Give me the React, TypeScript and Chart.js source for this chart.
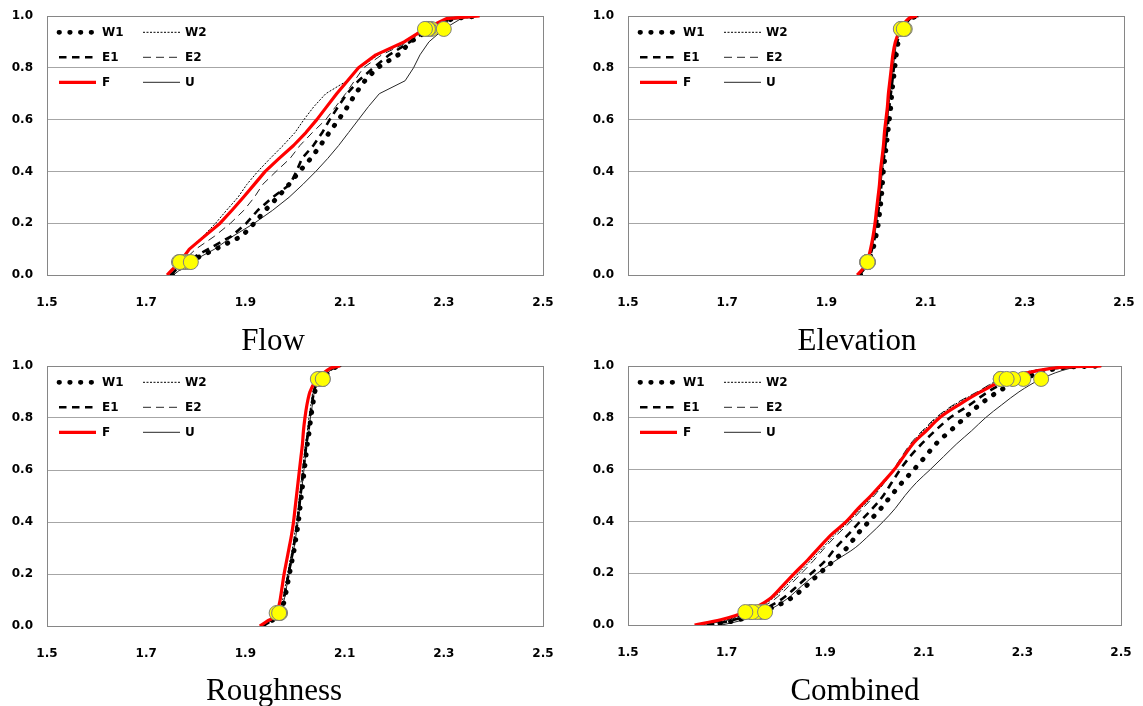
import React, { useEffect, useRef } from "react";
import { Chart, registerables } from "chart.js";

Chart.register(...registerables);

// Cumulative probability levels shared by every curve
const LEVELS = [0, 0.02, 0.05, 0.1, 0.15, 0.2, 0.25, 0.3, 0.35, 0.4, 0.45, 0.5, 0.55, 0.6, 0.65, 0.7, 0.75, 0.8, 0.85, 0.9, 0.95, 0.99, 1.0];
const X_TICKS = [1.5, 1.7, 1.9, 2.1, 2.3, 2.5];
const Y_TICKS = [0, 0.2, 0.4, 0.6, 0.8, 1.0];
const SERIES = ["W1", "W2", "E1", "E2", "F", "U"];
const MARK_LEVELS = [0.05, 0.95];

// Flow
const FLOW_W1 = [1.752, 1.763, 1.785, 1.840, 1.893, 1.918, 1.940, 1.965, 1.988, 2.009, 2.032, 2.051, 2.069, 2.088, 2.106, 2.122, 2.141, 2.166, 2.208, 2.233, 2.275, 2.318, 2.372];
const FLOW_W2 = [1.745, 1.753, 1.766, 1.786, 1.815, 1.840, 1.862, 1.885, 1.903, 1.925, 1.950, 1.976, 2.000, 2.018, 2.038, 2.062, 2.105, 2.130, 2.168, 2.224, 2.265, 2.310, 2.372];
const FLOW_E1 = [1.750, 1.760, 1.778, 1.825, 1.872, 1.902, 1.925, 1.955, 1.990, 2.003, 2.014, 2.037, 2.055, 2.070, 2.087, 2.105, 2.128, 2.158, 2.190, 2.232, 2.270, 2.315, 2.372];
const FLOW_E2 = [1.748, 1.757, 1.772, 1.800, 1.838, 1.870, 1.897, 1.918, 1.935, 1.962, 1.990, 2.010, 2.035, 2.062, 2.082, 2.102, 2.120, 2.138, 2.175, 2.228, 2.268, 2.312, 2.372];
const FLOW_F = [1.742, 1.752, 1.768, 1.787, 1.818, 1.849, 1.873, 1.896, 1.918, 1.940, 1.968, 1.997, 2.022, 2.044, 2.064, 2.084, 2.106, 2.128, 2.163, 2.220, 2.262, 2.305, 2.372];
const FLOW_U = [1.755, 1.768, 1.790, 1.838, 1.875, 1.918, 1.955, 1.988, 2.016, 2.042, 2.066, 2.088, 2.108, 2.128, 2.148, 2.170, 2.222, 2.239, 2.252, 2.270, 2.300, 2.335, 2.368];

// Elevation
const ELEV_W1 = [1.968, 1.977, 1.984, 1.994, 2.000, 2.005, 2.008, 2.011, 2.013, 2.015, 2.018, 2.021, 2.024, 2.027, 2.030, 2.032, 2.035, 2.038, 2.041, 2.045, 2.058, 2.072, 2.086];
const ELEV_W2 = [1.963, 1.973, 1.982, 1.990, 1.996, 2.000, 2.003, 2.006, 2.009, 2.011, 2.014, 2.017, 2.019, 2.022, 2.025, 2.027, 2.030, 2.033, 2.036, 2.040, 2.051, 2.067, 2.084];
const ELEV_E1 = [1.965, 1.975, 1.983, 1.992, 1.998, 2.002, 2.005, 2.008, 2.011, 2.013, 2.016, 2.019, 2.022, 2.025, 2.027, 2.030, 2.033, 2.036, 2.039, 2.043, 2.054, 2.069, 2.085];
const ELEV_E2 = [1.964, 1.974, 1.983, 1.991, 1.997, 2.001, 2.004, 2.007, 2.010, 2.012, 2.015, 2.018, 2.020, 2.023, 2.026, 2.028, 2.031, 2.034, 2.037, 2.041, 2.052, 2.068, 2.084];
const ELEV_F = [1.962, 1.972, 1.982, 1.989, 1.994, 1.998, 2.001, 2.004, 2.007, 2.009, 2.012, 2.015, 2.017, 2.020, 2.023, 2.025, 2.028, 2.031, 2.034, 2.039, 2.050, 2.066, 2.083];
const ELEV_U = [1.964, 1.974, 1.983, 1.991, 1.997, 2.001, 2.004, 2.007, 2.010, 2.013, 2.016, 2.018, 2.021, 2.024, 2.026, 2.029, 2.032, 2.035, 2.038, 2.042, 2.056, 2.070, 2.085];

// Roughness
const ROUGH_W1 = [1.936, 1.953, 1.970, 1.979, 1.984, 1.989, 1.994, 1.999, 2.003, 2.007, 2.010, 2.013, 2.016, 2.019, 2.022, 2.025, 2.029, 2.032, 2.036, 2.040, 2.056, 2.076, 2.094];
const ROUGH_W2 = [1.933, 1.950, 1.966, 1.975, 1.980, 1.985, 1.990, 1.995, 1.999, 2.003, 2.006, 2.009, 2.012, 2.015, 2.018, 2.021, 2.025, 2.028, 2.032, 2.036, 2.050, 2.073, 2.092];
const ROUGH_E1 = [1.935, 1.952, 1.968, 1.977, 1.982, 1.987, 1.992, 1.997, 2.001, 2.005, 2.008, 2.011, 2.014, 2.017, 2.020, 2.023, 2.027, 2.030, 2.034, 2.038, 2.054, 2.075, 2.093];
const ROUGH_E2 = [1.934, 1.951, 1.967, 1.976, 1.981, 1.986, 1.991, 1.996, 2.000, 2.004, 2.007, 2.010, 2.013, 2.016, 2.019, 2.022, 2.026, 2.029, 2.033, 2.037, 2.052, 2.074, 2.093];
const ROUGH_F = [1.929, 1.945, 1.963, 1.970, 1.974, 1.978, 1.983, 1.988, 1.993, 1.997, 2.000, 2.003, 2.006, 2.009, 2.012, 2.015, 2.017, 2.020, 2.024, 2.030, 2.046, 2.070, 2.091];
const ROUGH_U = [1.935, 1.952, 1.968, 1.978, 1.983, 1.988, 1.993, 1.998, 2.002, 2.006, 2.009, 2.012, 2.015, 2.018, 2.021, 2.024, 2.028, 2.031, 2.035, 2.039, 2.056, 2.076, 2.094];

// Combined
const COMB_W1 = [1.665, 1.725, 1.770, 1.828, 1.861, 1.889, 1.918, 1.945, 1.965, 1.989, 2.013, 2.034, 2.056, 2.080, 2.103, 2.125, 2.154, 2.183, 2.213, 2.250, 2.302, 2.370, 2.460];
const COMB_W2 = [1.645, 1.700, 1.748, 1.792, 1.820, 1.846, 1.871, 1.896, 1.920, 1.948, 1.972, 1.997, 2.020, 2.040, 2.057, 2.075, 2.099, 2.126, 2.162, 2.210, 2.256, 2.350, 2.460];
const COMB_E1 = [1.660, 1.715, 1.761, 1.812, 1.843, 1.872, 1.901, 1.922, 1.947, 1.971, 1.996, 2.018, 2.035, 2.052, 2.072, 2.096, 2.123, 2.153, 2.193, 2.230, 2.281, 2.362, 2.460];
const COMB_E2 = [1.648, 1.705, 1.752, 1.798, 1.826, 1.852, 1.877, 1.900, 1.925, 1.952, 1.976, 2.000, 2.020, 2.038, 2.055, 2.073, 2.097, 2.124, 2.160, 2.208, 2.256, 2.350, 2.460];
const COMB_F = [1.635, 1.688, 1.738, 1.787, 1.813, 1.838, 1.864, 1.888, 1.913, 1.943, 1.967, 1.993, 2.017, 2.040, 2.059, 2.078, 2.105, 2.132, 2.171, 2.215, 2.268, 2.355, 2.460];
const COMB_U = [1.690, 1.735, 1.778, 1.822, 1.852, 1.884, 1.922, 1.962, 1.991, 2.018, 2.042, 2.062, 2.085, 2.113, 2.140, 2.167, 2.197, 2.225, 2.258, 2.293, 2.338, 2.395, 2.460];

type Style = { color: string; width: number; dash: number[]; cap: CanvasLineCap; order: number };
const STYLE: Record<string, Style> = {
  W1: { color: "#000000", width: 4.8, dash: [0.5, 10.2], cap: "round", order: 3 },
  W2: { color: "#000000", width: 1, dash: [2, 1.5], cap: "butt", order: 5 },
  E1: { color: "#000000", width: 2.6, dash: [7.5, 5.5], cap: "butt", order: 4 },
  E2: { color: "#262626", width: 1, dash: [8, 5], cap: "butt", order: 6 },
  F: { color: "#FF0000", width: 3.2, dash: [], cap: "butt", order: 2 },
  U: { color: "#262626", width: 1, dash: [], cap: "butt", order: 7 },
};

const TICK_FONT = { family: "'DejaVu Sans'", size: 12, weight: "bold" as const };

type PanelDef = {
  title: string;
  left: number; top: number; w: number; h: number;
  area: { l: number; r: number; t: number; b: number };
  titleX: number; titleBase: number;
  series: Record<string, number[]>;
  smooth: boolean;
};

const PANELS: PanelDef[] = [
  {
    title: "Flow", left: 0, top: 0, w: 571, h: 353,
    area: { l: 47, r: 543, t: 16, b: 275 }, titleX: 273, titleBase: 350,
    series: { W1: FLOW_W1, W2: FLOW_W2, E1: FLOW_E1, E2: FLOW_E2, F: FLOW_F, U: FLOW_U }, smooth: false,
  },
  {
    title: "Elevation", left: 571, top: 0, w: 572, h: 353,
    area: { l: 57, r: 553, t: 16, b: 275 }, titleX: 857, titleBase: 350,
    series: { W1: ELEV_W1, W2: ELEV_W2, E1: ELEV_E1, E2: ELEV_E2, F: ELEV_F, U: ELEV_U }, smooth: true,
  },
  {
    title: "Roughness", left: 0, top: 353, w: 571, h: 353,
    area: { l: 47, r: 543, t: 13, b: 273 }, titleX: 274, titleBase: 700,
    series: { W1: ROUGH_W1, W2: ROUGH_W2, E1: ROUGH_E1, E2: ROUGH_E2, F: ROUGH_F, U: ROUGH_U }, smooth: true,
  },
  {
    title: "Combined", left: 571, top: 353, w: 572, h: 353,
    area: { l: 57, r: 550, t: 13, b: 272 }, titleX: 855, titleBase: 700,
    series: { W1: COMB_W1, W2: COMB_W2, E1: COMB_E1, E2: COMB_E2, F: COMB_F, U: COMB_U }, smooth: true,
  },
];

const X_AXIS_H = 40;

function makeLegendPlugin() {
  return {
    id: "insideLegend",
    afterDatasetsDraw(chart: any) {
      const { ctx, chartArea } = chart;
      const L = chartArea.left;
      const T = chartArea.top;
      const rows = [["W1", "W2"], ["E1", "E2"], ["F", "U"]];
      ctx.save();
      rows.forEach((row, ri) => {
        const y = T + 16.3 + ri * 25;
        row.forEach((name, ci) => {
          const st = STYLE[name];
          const x0 = L + (ci === 0 ? 12 : 96);
          const x1 = x0 + 37;
          ctx.beginPath();
          ctx.strokeStyle = st.color;
          ctx.lineWidth = st.width;
          ctx.lineCap = st.cap;
          ctx.setLineDash(st.dash);
          ctx.moveTo(x0, y);
          ctx.lineTo(x1, y);
          ctx.stroke();
          ctx.setLineDash([]);
          ctx.fillStyle = "#000";
          ctx.font = "bold 12px 'DejaVu Sans'";
          ctx.textBaseline = "middle";
          ctx.textAlign = "left";
          ctx.fillText(name, L + (ci === 0 ? 55 : 138), y + 0.5);
        });
      });
      ctx.restore();
    },
  };
}

const boxPlugin = {
  id: "plotBox",
  beforeDatasetsDraw(chart: any) {
    const { ctx, chartArea } = chart;
    ctx.save();
    ctx.strokeStyle = "#868686";
    ctx.lineWidth = 1;
    ctx.strokeRect(
      Math.round(chartArea.left) + 0.5,
      Math.round(chartArea.top) + 0.5,
      Math.round(chartArea.right - chartArea.left),
      Math.round(chartArea.bottom - chartArea.top)
    );
    ctx.restore();
  },
};

function Panel({ def }: { def: PanelDef }) {
  const ref = useRef<HTMLCanvasElement | null>(null);
  useEffect(() => {
    if (!ref.current) return;
    const i05 = LEVELS.indexOf(MARK_LEVELS[0]);
    const i95 = LEVELS.indexOf(MARK_LEVELS[1]);
    const lineSets = SERIES.map((name) => {
      const st = STYLE[name];
      const xs = def.series[name];
      return {
        label: name,
        data: xs.map((x, i) => ({ x, y: LEVELS[i] })),
        showLine: true,
        borderColor: st.color,
        backgroundColor: st.color,
        borderWidth: st.width,
        borderDash: st.dash,
        borderCapStyle: st.cap,
        borderJoinStyle: "round",
        pointRadius: 0,
        pointHoverRadius: 0,
        tension: 0,
        cubicInterpolationMode: def.smooth ? "monotone" : "default",
        fill: false,
        order: st.order,
      };
    });
    const marks = {
      label: "percentiles",
      data: SERIES.flatMap((name) => [
        { x: def.series[name][i05], y: MARK_LEVELS[0] },
        { x: def.series[name][i95], y: MARK_LEVELS[1] },
      ]),
      showLine: false,
      pointRadius: 7.5,
      pointHoverRadius: 7.5,
      pointBackgroundColor: "#FFFF00",
      pointBorderColor: "#7F7F7F",
      pointBorderWidth: 1,
      order: 0,
    };
    const a = def.area;
    const chart = new Chart(ref.current, {
      type: "scatter",
      data: { datasets: [marks, ...lineSets] as any },
      options: {
        animation: false,
        responsive: false,
        events: [],
        layout: {
          padding: { left: 0, top: a.t, right: def.w - a.r, bottom: def.h - a.b - X_AXIS_H },
        },
        plugins: {
          legend: { display: false },
          tooltip: { enabled: false },
          title: { display: false },
        },
        scales: {
          x: {
            type: "linear",
            min: 1.5,
            max: 2.5,
            afterBuildTicks: (s: any) => {
              s.ticks = X_TICKS.map((v) => ({ value: v }));
            },
            afterFit: (s: any) => {
              s.height = X_AXIS_H;
            },
            grid: { display: false, drawTicks: true, tickLength: 21, tickColor: "rgba(0,0,0,0)" },
            border: { display: false },
            ticks: {
              color: "#000",
              font: TICK_FONT,
              padding: 0,
              maxRotation: 0,
              autoSkip: false,
              callback: (v: any) => Number(v).toFixed(1),
            },
          },
          y: {
            type: "linear",
            min: 0,
            max: 1,
            afterBuildTicks: (s: any) => {
              s.ticks = Y_TICKS.map((v) => ({ value: v }));
            },
            afterFit: (s: any) => {
              s.width = a.l;
            },
            grid: { color: "#A6A6A6", lineWidth: 1, drawTicks: true, tickLength: 14, tickColor: "rgba(0,0,0,0)" },
            border: { display: false },
            ticks: {
              color: "#000",
              font: TICK_FONT,
              padding: 0,
              autoSkip: false,
              callback: (v: any) => Number(v).toFixed(1),
            },
          },
        },
      } as any,
      plugins: [boxPlugin, makeLegendPlugin()],
    });
    return () => chart.destroy();
  }, [def]);
  return (
    <canvas
      ref={ref}
      width={def.w}
      height={def.h}
      style={{ position: "absolute", left: def.left, top: def.top, width: def.w, height: def.h }}
    />
  );
}

export default function App() {
  return (
    <div style={{ position: "absolute", left: 0, top: 0, width: 1143, height: 706, background: "#ffffff", overflow: "hidden" }}>
      {PANELS.map((p) => (
        <Panel key={p.title} def={p} />
      ))}
      {PANELS.map((p) => (
        <div
          key={p.title + "-t"}
          style={{
            position: "absolute",
            left: p.titleX - 150,
            width: 300,
            top: p.titleBase - 26.5,
            height: 32,
            lineHeight: "32px",
            textAlign: "center",
            fontFamily: "'Liberation Serif', 'Times New Roman', serif",
            fontSize: 31,
            color: "#000",
            whiteSpace: "nowrap",
          }}
        >
          {p.title}
        </div>
      ))}
    </div>
  );
}
